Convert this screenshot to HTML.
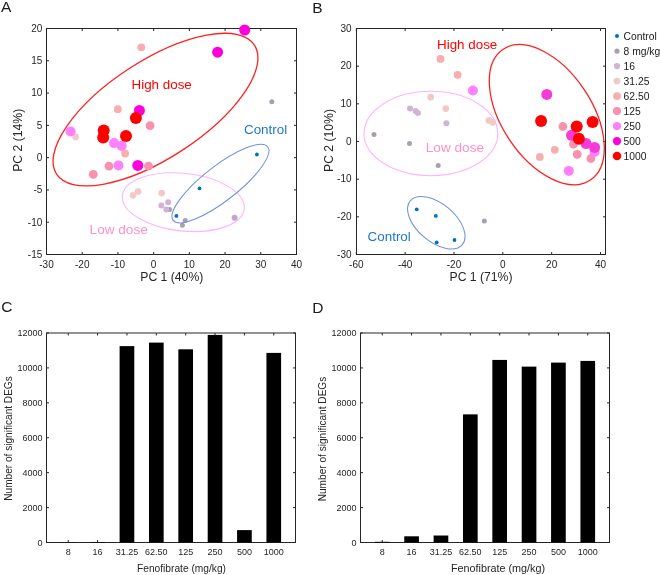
<!DOCTYPE html>
<html><head><meta charset="utf-8"><style>
html,body{margin:0;padding:0;background:#fff;}
svg{display:block;font-family:"Liberation Sans",sans-serif;will-change:transform;}
</style></head><body>
<svg width="661" height="575" viewBox="0 0 661 575">
<rect width="661" height="575" fill="#fff"/>
<rect x="46.5" y="28.5" width="250.0" height="226.0" fill="none" stroke="#262626" stroke-width="1"/>
<line x1="46.5" y1="254.5" x2="46.5" y2="252.0" stroke="#262626" stroke-width="1"/>
<line x1="46.5" y1="28.5" x2="46.5" y2="31.0" stroke="#262626" stroke-width="1"/>
<line x1="82.21428571428572" y1="254.5" x2="82.21428571428572" y2="252.0" stroke="#262626" stroke-width="1"/>
<line x1="82.21428571428572" y1="28.5" x2="82.21428571428572" y2="31.0" stroke="#262626" stroke-width="1"/>
<line x1="117.92857142857143" y1="254.5" x2="117.92857142857143" y2="252.0" stroke="#262626" stroke-width="1"/>
<line x1="117.92857142857143" y1="28.5" x2="117.92857142857143" y2="31.0" stroke="#262626" stroke-width="1"/>
<line x1="153.64285714285714" y1="254.5" x2="153.64285714285714" y2="252.0" stroke="#262626" stroke-width="1"/>
<line x1="153.64285714285714" y1="28.5" x2="153.64285714285714" y2="31.0" stroke="#262626" stroke-width="1"/>
<line x1="189.35714285714286" y1="254.5" x2="189.35714285714286" y2="252.0" stroke="#262626" stroke-width="1"/>
<line x1="189.35714285714286" y1="28.5" x2="189.35714285714286" y2="31.0" stroke="#262626" stroke-width="1"/>
<line x1="225.07142857142858" y1="254.5" x2="225.07142857142858" y2="252.0" stroke="#262626" stroke-width="1"/>
<line x1="225.07142857142858" y1="28.5" x2="225.07142857142858" y2="31.0" stroke="#262626" stroke-width="1"/>
<line x1="260.7857142857143" y1="254.5" x2="260.7857142857143" y2="252.0" stroke="#262626" stroke-width="1"/>
<line x1="260.7857142857143" y1="28.5" x2="260.7857142857143" y2="31.0" stroke="#262626" stroke-width="1"/>
<line x1="296.5" y1="254.5" x2="296.5" y2="252.0" stroke="#262626" stroke-width="1"/>
<line x1="296.5" y1="28.5" x2="296.5" y2="31.0" stroke="#262626" stroke-width="1"/>
<line x1="46.5" y1="254.5" x2="49.0" y2="254.5" stroke="#262626" stroke-width="1"/>
<line x1="296.5" y1="254.5" x2="294.0" y2="254.5" stroke="#262626" stroke-width="1"/>
<line x1="46.5" y1="222.21428571428572" x2="49.0" y2="222.21428571428572" stroke="#262626" stroke-width="1"/>
<line x1="296.5" y1="222.21428571428572" x2="294.0" y2="222.21428571428572" stroke="#262626" stroke-width="1"/>
<line x1="46.5" y1="189.92857142857144" x2="49.0" y2="189.92857142857144" stroke="#262626" stroke-width="1"/>
<line x1="296.5" y1="189.92857142857144" x2="294.0" y2="189.92857142857144" stroke="#262626" stroke-width="1"/>
<line x1="46.5" y1="157.64285714285714" x2="49.0" y2="157.64285714285714" stroke="#262626" stroke-width="1"/>
<line x1="296.5" y1="157.64285714285714" x2="294.0" y2="157.64285714285714" stroke="#262626" stroke-width="1"/>
<line x1="46.5" y1="125.35714285714286" x2="49.0" y2="125.35714285714286" stroke="#262626" stroke-width="1"/>
<line x1="296.5" y1="125.35714285714286" x2="294.0" y2="125.35714285714286" stroke="#262626" stroke-width="1"/>
<line x1="46.5" y1="93.07142857142858" x2="49.0" y2="93.07142857142858" stroke="#262626" stroke-width="1"/>
<line x1="296.5" y1="93.07142857142858" x2="294.0" y2="93.07142857142858" stroke="#262626" stroke-width="1"/>
<line x1="46.5" y1="60.78571428571428" x2="49.0" y2="60.78571428571428" stroke="#262626" stroke-width="1"/>
<line x1="296.5" y1="60.78571428571428" x2="294.0" y2="60.78571428571428" stroke="#262626" stroke-width="1"/>
<line x1="46.5" y1="28.5" x2="49.0" y2="28.5" stroke="#262626" stroke-width="1"/>
<line x1="296.5" y1="28.5" x2="294.0" y2="28.5" stroke="#262626" stroke-width="1"/>
<text x="46.5" y="267.8" font-size="10" text-anchor="middle" fill="#262626" >-30</text>
<text x="82.21428571428572" y="267.8" font-size="10" text-anchor="middle" fill="#262626" >-20</text>
<text x="117.92857142857143" y="267.8" font-size="10" text-anchor="middle" fill="#262626" >-10</text>
<text x="153.64285714285714" y="267.8" font-size="10" text-anchor="middle" fill="#262626" >0</text>
<text x="189.35714285714286" y="267.8" font-size="10" text-anchor="middle" fill="#262626" >10</text>
<text x="225.07142857142858" y="267.8" font-size="10" text-anchor="middle" fill="#262626" >20</text>
<text x="260.7857142857143" y="267.8" font-size="10" text-anchor="middle" fill="#262626" >30</text>
<text x="296.5" y="267.8" font-size="10" text-anchor="middle" fill="#262626" >40</text>
<text x="42.3" y="257.8" font-size="10" text-anchor="end" fill="#262626" >-15</text>
<text x="42.3" y="225.51428571428573" font-size="10" text-anchor="end" fill="#262626" >-10</text>
<text x="42.3" y="193.22857142857146" font-size="10" text-anchor="end" fill="#262626" >-5</text>
<text x="42.3" y="160.94285714285715" font-size="10" text-anchor="end" fill="#262626" >0</text>
<text x="42.3" y="128.65714285714287" font-size="10" text-anchor="end" fill="#262626" >5</text>
<text x="42.3" y="96.37142857142858" font-size="10" text-anchor="end" fill="#262626" >10</text>
<text x="42.3" y="64.08571428571427" font-size="10" text-anchor="end" fill="#262626" >15</text>
<text x="42.3" y="31.8" font-size="10" text-anchor="end" fill="#262626" >20</text>
<text x="171.8" y="281.3" font-size="12.2" text-anchor="middle" fill="#262626" >PC 1 (40%)</text>
<text x="22.5" y="140.3" font-size="12.2" text-anchor="middle" fill="#262626" transform="rotate(-90 22.5 140.3)">PC 2 (14%)</text>
<text x="1" y="11.8" font-size="15.5" text-anchor="start" fill="#1a1a1a" >A</text>
<ellipse cx="155.5" cy="109.6" rx="118.1" ry="48.7" transform="rotate(-33.1 155.5 109.6)" fill="none" stroke="#ff2020" stroke-width="1.3"/>
<ellipse cx="183.3" cy="202.2" rx="61.3" ry="28.8" transform="rotate(6.2 183.3 202.2)" fill="none" stroke="#ffb4ff" stroke-width="1.1"/>
<circle cx="199.5" cy="188.4" r="1.90" fill="#0072bd"/>
<circle cx="176.4" cy="215.9" r="1.90" fill="#0072bd"/>
<circle cx="256.9" cy="154.5" r="1.90" fill="#0072bd"/>
<circle cx="271.8" cy="101.8" r="2.50" fill="#ab9eb0"/>
<circle cx="169.6" cy="209.6" r="2.50" fill="#ab9eb0"/>
<circle cx="185.2" cy="220.4" r="2.50" fill="#ab9eb0"/>
<circle cx="182.4" cy="225.2" r="2.50" fill="#ab9eb0"/>
<circle cx="234.6" cy="217.7" r="3.00" fill="#c2a8c6"/>
<circle cx="168.2" cy="202.2" r="3.00" fill="#d2b2d6"/>
<circle cx="161.3" cy="205.6" r="3.00" fill="#d2b2d6"/>
<circle cx="166.3" cy="209.6" r="3.00" fill="#d2b2d6"/>
<circle cx="75.6" cy="136.9" r="3.35" fill="#f3c8c8"/>
<circle cx="133" cy="195.3" r="3.35" fill="#f3c8c8"/>
<circle cx="138.1" cy="191.5" r="3.35" fill="#f3c8c8"/>
<circle cx="161.7" cy="193.1" r="3.35" fill="#f3c8c8"/>
<circle cx="141.3" cy="47.3" r="3.90" fill="#f8aeae"/>
<circle cx="117.8" cy="109.2" r="3.90" fill="#f8aeae"/>
<circle cx="125.1" cy="153.5" r="3.90" fill="#f8aeae"/>
<circle cx="150.1" cy="125.7" r="4.40" fill="#f890ae"/>
<circle cx="109" cy="166.2" r="4.40" fill="#f890ae"/>
<circle cx="148.5" cy="166.2" r="4.40" fill="#f890ae"/>
<circle cx="93.3" cy="174.3" r="4.40" fill="#f890ae"/>
<circle cx="70.6" cy="131.5" r="5.00" fill="#ff80ff"/>
<circle cx="114.1" cy="143.1" r="5.00" fill="#ff80ff"/>
<circle cx="121.7" cy="145.9" r="5.00" fill="#ff80ff"/>
<circle cx="118.5" cy="165.4" r="5.00" fill="#ff80ff"/>
<circle cx="139.4" cy="110.5" r="5.50" fill="#ff00dc"/>
<circle cx="137.8" cy="165.4" r="5.50" fill="#ff00dc"/>
<circle cx="217.6" cy="52.2" r="5.50" fill="#ff00dc"/>
<circle cx="244.7" cy="30" r="5.50" fill="#ff00dc"/>
<circle cx="135.9" cy="118.1" r="6.00" fill="#ff0000"/>
<circle cx="103.7" cy="130.4" r="6.00" fill="#ff0000"/>
<circle cx="103.2" cy="137.4" r="6.00" fill="#ff0000"/>
<circle cx="126" cy="135.9" r="6.00" fill="#ff0000"/>
<ellipse cx="220.45" cy="183.55" rx="59.9" ry="17.4" transform="rotate(-37.9 220.45 183.55)" fill="none" stroke="#6f93dc" stroke-width="1.05"/>
<text x="131.5" y="88.7" font-size="13.4" text-anchor="start" fill="#ff0000" >High dose</text>
<text x="244" y="134.2" font-size="13.4" text-anchor="start" fill="#1f78c8" >Control</text>
<text x="89.6" y="234.2" font-size="13.6" text-anchor="start" fill="#ff90cc" >Low dose</text>
<rect x="356.5" y="28.5" width="249.0" height="226.0" fill="none" stroke="#262626" stroke-width="1"/>
<line x1="356.3" y1="254.5" x2="356.3" y2="252.0" stroke="#262626" stroke-width="1"/>
<line x1="356.3" y1="28.5" x2="356.3" y2="31.0" stroke="#262626" stroke-width="1"/>
<line x1="405.14" y1="254.5" x2="405.14" y2="252.0" stroke="#262626" stroke-width="1"/>
<line x1="405.14" y1="28.5" x2="405.14" y2="31.0" stroke="#262626" stroke-width="1"/>
<line x1="453.98" y1="254.5" x2="453.98" y2="252.0" stroke="#262626" stroke-width="1"/>
<line x1="453.98" y1="28.5" x2="453.98" y2="31.0" stroke="#262626" stroke-width="1"/>
<line x1="502.82000000000005" y1="254.5" x2="502.82000000000005" y2="252.0" stroke="#262626" stroke-width="1"/>
<line x1="502.82000000000005" y1="28.5" x2="502.82000000000005" y2="31.0" stroke="#262626" stroke-width="1"/>
<line x1="551.6600000000001" y1="254.5" x2="551.6600000000001" y2="252.0" stroke="#262626" stroke-width="1"/>
<line x1="551.6600000000001" y1="28.5" x2="551.6600000000001" y2="31.0" stroke="#262626" stroke-width="1"/>
<line x1="600.5" y1="254.5" x2="600.5" y2="252.0" stroke="#262626" stroke-width="1"/>
<line x1="600.5" y1="28.5" x2="600.5" y2="31.0" stroke="#262626" stroke-width="1"/>
<line x1="356.5" y1="254.5" x2="359.0" y2="254.5" stroke="#262626" stroke-width="1"/>
<line x1="605.5" y1="254.5" x2="603.0" y2="254.5" stroke="#262626" stroke-width="1"/>
<line x1="356.5" y1="216.83333333333334" x2="359.0" y2="216.83333333333334" stroke="#262626" stroke-width="1"/>
<line x1="605.5" y1="216.83333333333334" x2="603.0" y2="216.83333333333334" stroke="#262626" stroke-width="1"/>
<line x1="356.5" y1="179.16666666666666" x2="359.0" y2="179.16666666666666" stroke="#262626" stroke-width="1"/>
<line x1="605.5" y1="179.16666666666666" x2="603.0" y2="179.16666666666666" stroke="#262626" stroke-width="1"/>
<line x1="356.5" y1="141.5" x2="359.0" y2="141.5" stroke="#262626" stroke-width="1"/>
<line x1="605.5" y1="141.5" x2="603.0" y2="141.5" stroke="#262626" stroke-width="1"/>
<line x1="356.5" y1="103.83333333333333" x2="359.0" y2="103.83333333333333" stroke="#262626" stroke-width="1"/>
<line x1="605.5" y1="103.83333333333333" x2="603.0" y2="103.83333333333333" stroke="#262626" stroke-width="1"/>
<line x1="356.5" y1="66.16666666666666" x2="359.0" y2="66.16666666666666" stroke="#262626" stroke-width="1"/>
<line x1="605.5" y1="66.16666666666666" x2="603.0" y2="66.16666666666666" stroke="#262626" stroke-width="1"/>
<line x1="356.5" y1="28.5" x2="359.0" y2="28.5" stroke="#262626" stroke-width="1"/>
<line x1="605.5" y1="28.5" x2="603.0" y2="28.5" stroke="#262626" stroke-width="1"/>
<text x="356.3" y="267.8" font-size="10" text-anchor="middle" fill="#262626" >-60</text>
<text x="405.14" y="267.8" font-size="10" text-anchor="middle" fill="#262626" >-40</text>
<text x="453.98" y="267.8" font-size="10" text-anchor="middle" fill="#262626" >-20</text>
<text x="502.82000000000005" y="267.8" font-size="10" text-anchor="middle" fill="#262626" >0</text>
<text x="551.6600000000001" y="267.8" font-size="10" text-anchor="middle" fill="#262626" >20</text>
<text x="600.5" y="267.8" font-size="10" text-anchor="middle" fill="#262626" >40</text>
<text x="351.5" y="257.8" font-size="10" text-anchor="end" fill="#262626" >-30</text>
<text x="351.5" y="220.13333333333335" font-size="10" text-anchor="end" fill="#262626" >-20</text>
<text x="351.5" y="182.46666666666667" font-size="10" text-anchor="end" fill="#262626" >-10</text>
<text x="351.5" y="144.8" font-size="10" text-anchor="end" fill="#262626" >0</text>
<text x="351.5" y="107.13333333333333" font-size="10" text-anchor="end" fill="#262626" >10</text>
<text x="351.5" y="69.46666666666665" font-size="10" text-anchor="end" fill="#262626" >20</text>
<text x="351.5" y="31.8" font-size="10" text-anchor="end" fill="#262626" >30</text>
<text x="481" y="281.3" font-size="12.2" text-anchor="middle" fill="#262626" >PC 1 (71%)</text>
<text x="332.5" y="140.5" font-size="12.2" text-anchor="middle" fill="#262626" transform="rotate(-90 332.5 140.5)">PC 2 (10%)</text>
<text x="312.3" y="12.8" font-size="15.5" text-anchor="start" fill="#1a1a1a" >B</text>
<ellipse cx="430.9" cy="133.5" rx="66.9" ry="42.2" fill="none" stroke="#ffb4ff" stroke-width="1.1"/>
<ellipse cx="546.8" cy="114.65" rx="78.6" ry="45" transform="rotate(56.3 546.8 114.65)" fill="none" stroke="#ff2020" stroke-width="1.3"/>
<ellipse cx="436.3" cy="222.7" rx="34" ry="18.9" transform="rotate(40 436.3 222.7)" fill="none" stroke="#6f93dc" stroke-width="1.05"/>
<circle cx="416.7" cy="209.3" r="1.90" fill="#0072bd"/>
<circle cx="435.8" cy="215.9" r="1.90" fill="#0072bd"/>
<circle cx="436.7" cy="242.4" r="1.90" fill="#0072bd"/>
<circle cx="454.5" cy="240" r="1.90" fill="#0072bd"/>
<circle cx="374" cy="134.4" r="2.50" fill="#ab9eb0"/>
<circle cx="409.5" cy="143.5" r="2.50" fill="#ab9eb0"/>
<circle cx="438.2" cy="165.4" r="2.50" fill="#ab9eb0"/>
<circle cx="484.3" cy="220.9" r="2.50" fill="#ab9eb0"/>
<circle cx="410" cy="108.6" r="3.00" fill="#d2b2d6"/>
<circle cx="415.6" cy="111.1" r="3.00" fill="#d2b2d6"/>
<circle cx="417.9" cy="113.1" r="3.00" fill="#d2b2d6"/>
<circle cx="446.4" cy="123.3" r="3.00" fill="#d2b2d6"/>
<circle cx="430.7" cy="97.2" r="3.35" fill="#f3c8c8"/>
<circle cx="445.8" cy="108.6" r="3.35" fill="#f3c8c8"/>
<circle cx="488.9" cy="120.4" r="3.35" fill="#f3c8c8"/>
<circle cx="492.8" cy="122.3" r="3.35" fill="#f3c8c8"/>
<circle cx="440.5" cy="58.9" r="3.90" fill="#f8aeae"/>
<circle cx="457.6" cy="74.8" r="3.90" fill="#f8aeae"/>
<circle cx="554.8" cy="149.8" r="3.90" fill="#f8aeae"/>
<circle cx="539.8" cy="156.9" r="3.90" fill="#f8aeae"/>
<circle cx="562.9" cy="126.5" r="4.40" fill="#f890ae"/>
<circle cx="573.5" cy="144.2" r="4.40" fill="#f890ae"/>
<circle cx="577.2" cy="154.3" r="4.40" fill="#f890ae"/>
<circle cx="590.9" cy="158.5" r="4.40" fill="#f890ae"/>
<circle cx="472.9" cy="90.5" r="5.00" fill="#ff80ff"/>
<circle cx="568.8" cy="170.9" r="5.00" fill="#ff80ff"/>
<circle cx="594.6" cy="152" r="5.00" fill="#ff80ff"/>
<circle cx="546.8" cy="94.4" r="5.50" fill="#f53cd8"/>
<circle cx="571.5" cy="135.3" r="5.50" fill="#f53cd8"/>
<circle cx="586.1" cy="143.5" r="5.50" fill="#f53cd8"/>
<circle cx="594.6" cy="147.4" r="5.50" fill="#f53cd8"/>
<circle cx="541.1" cy="120.9" r="6.00" fill="#ff0000"/>
<circle cx="576.7" cy="126.5" r="6.00" fill="#ff0000"/>
<circle cx="592.6" cy="122" r="6.00" fill="#ff0000"/>
<circle cx="578.9" cy="138.7" r="6.00" fill="#ff0000"/>
<text x="437" y="49" font-size="13.4" text-anchor="start" fill="#ff0000" >High dose</text>
<text x="367.6" y="241.4" font-size="13.4" text-anchor="start" fill="#1f78c8" >Control</text>
<text x="425.8" y="151.8" font-size="13.6" text-anchor="start" fill="#ff90cc" >Low dose</text>
<circle cx="617" cy="36.1" r="2.0" fill="#0072bd"/>
<text x="623.6" y="39.6" font-size="10.3" text-anchor="start" fill="#1a1a1a" >Control</text>
<circle cx="617" cy="51.1" r="2.6" fill="#ab9eb0"/>
<text x="623.6" y="54.6" font-size="10.3" text-anchor="start" fill="#1a1a1a" >8 mg/kg</text>
<circle cx="617" cy="66.1" r="3.1" fill="#d2b2d6"/>
<text x="623.6" y="69.6" font-size="10.3" text-anchor="start" fill="#1a1a1a" >16</text>
<circle cx="617" cy="81.1" r="3.4" fill="#f3c8c8"/>
<text x="623.6" y="84.6" font-size="10.3" text-anchor="start" fill="#1a1a1a" >31.25</text>
<circle cx="617" cy="96.1" r="3.9" fill="#f8aeae"/>
<text x="623.6" y="99.6" font-size="10.3" text-anchor="start" fill="#1a1a1a" >62.50</text>
<circle cx="617" cy="111.1" r="4.05" fill="#f890ae"/>
<text x="623.6" y="114.6" font-size="10.3" text-anchor="start" fill="#1a1a1a" >125</text>
<circle cx="617" cy="126.1" r="4.15" fill="#ff80ff"/>
<text x="623.6" y="129.6" font-size="10.3" text-anchor="start" fill="#1a1a1a" >250</text>
<circle cx="617" cy="141.1" r="4.15" fill="#ff00dc"/>
<text x="623.6" y="144.6" font-size="10.3" text-anchor="start" fill="#1a1a1a" >500</text>
<circle cx="617" cy="156.1" r="4.25" fill="#ff0000"/>
<text x="623.6" y="159.6" font-size="10.3" text-anchor="start" fill="#1a1a1a" >1000</text>
<rect x="46.5" y="333" width="249.0" height="209.5" fill="none" stroke="#262626" stroke-width="1"/>
<line x1="68.22877358490567" y1="542.5" x2="68.22877358490567" y2="540.0" stroke="#262626" stroke-width="1"/>
<line x1="68.22877358490567" y1="333" x2="68.22877358490567" y2="335.5" stroke="#262626" stroke-width="1"/>
<line x1="97.59198113207546" y1="542.5" x2="97.59198113207546" y2="540.0" stroke="#262626" stroke-width="1"/>
<line x1="97.59198113207546" y1="333" x2="97.59198113207546" y2="335.5" stroke="#262626" stroke-width="1"/>
<line x1="126.95518867924528" y1="542.5" x2="126.95518867924528" y2="540.0" stroke="#262626" stroke-width="1"/>
<line x1="126.95518867924528" y1="333" x2="126.95518867924528" y2="335.5" stroke="#262626" stroke-width="1"/>
<line x1="156.3183962264151" y1="542.5" x2="156.3183962264151" y2="540.0" stroke="#262626" stroke-width="1"/>
<line x1="156.3183962264151" y1="333" x2="156.3183962264151" y2="335.5" stroke="#262626" stroke-width="1"/>
<line x1="185.6816037735849" y1="542.5" x2="185.6816037735849" y2="540.0" stroke="#262626" stroke-width="1"/>
<line x1="185.6816037735849" y1="333" x2="185.6816037735849" y2="335.5" stroke="#262626" stroke-width="1"/>
<line x1="215.04481132075472" y1="542.5" x2="215.04481132075472" y2="540.0" stroke="#262626" stroke-width="1"/>
<line x1="215.04481132075472" y1="333" x2="215.04481132075472" y2="335.5" stroke="#262626" stroke-width="1"/>
<line x1="244.40801886792454" y1="542.5" x2="244.40801886792454" y2="540.0" stroke="#262626" stroke-width="1"/>
<line x1="244.40801886792454" y1="333" x2="244.40801886792454" y2="335.5" stroke="#262626" stroke-width="1"/>
<line x1="273.77122641509436" y1="542.5" x2="273.77122641509436" y2="540.0" stroke="#262626" stroke-width="1"/>
<line x1="273.77122641509436" y1="333" x2="273.77122641509436" y2="335.5" stroke="#262626" stroke-width="1"/>
<line x1="46.5" y1="542.5" x2="49.0" y2="542.5" stroke="#262626" stroke-width="1"/>
<line x1="295.5" y1="542.5" x2="293.0" y2="542.5" stroke="#262626" stroke-width="1"/>
<line x1="46.5" y1="507.5833333333333" x2="49.0" y2="507.5833333333333" stroke="#262626" stroke-width="1"/>
<line x1="295.5" y1="507.5833333333333" x2="293.0" y2="507.5833333333333" stroke="#262626" stroke-width="1"/>
<line x1="46.5" y1="472.6666666666667" x2="49.0" y2="472.6666666666667" stroke="#262626" stroke-width="1"/>
<line x1="295.5" y1="472.6666666666667" x2="293.0" y2="472.6666666666667" stroke="#262626" stroke-width="1"/>
<line x1="46.5" y1="437.75" x2="49.0" y2="437.75" stroke="#262626" stroke-width="1"/>
<line x1="295.5" y1="437.75" x2="293.0" y2="437.75" stroke="#262626" stroke-width="1"/>
<line x1="46.5" y1="402.83333333333337" x2="49.0" y2="402.83333333333337" stroke="#262626" stroke-width="1"/>
<line x1="295.5" y1="402.83333333333337" x2="293.0" y2="402.83333333333337" stroke="#262626" stroke-width="1"/>
<line x1="46.5" y1="367.91666666666663" x2="49.0" y2="367.91666666666663" stroke="#262626" stroke-width="1"/>
<line x1="295.5" y1="367.91666666666663" x2="293.0" y2="367.91666666666663" stroke="#262626" stroke-width="1"/>
<line x1="46.5" y1="333.0" x2="49.0" y2="333.0" stroke="#262626" stroke-width="1"/>
<line x1="295.5" y1="333.0" x2="293.0" y2="333.0" stroke="#262626" stroke-width="1"/>
<rect x="60.89" y="542.24" width="14.68" height="0.26" fill="#000"/>
<rect x="90.25" y="541.98" width="14.68" height="0.52" fill="#000"/>
<rect x="119.61" y="346.11" width="14.68" height="196.39" fill="#000"/>
<rect x="148.98" y="342.60" width="14.68" height="199.90" fill="#000"/>
<rect x="178.34" y="349.31" width="14.68" height="193.19" fill="#000"/>
<rect x="207.70" y="334.92" width="14.68" height="207.58" fill="#000"/>
<rect x="237.07" y="530.10" width="14.68" height="12.40" fill="#000"/>
<rect x="266.43" y="352.90" width="14.68" height="189.60" fill="#000"/>
<text x="68.23" y="555" font-size="9" text-anchor="middle" fill="#262626" >8</text>
<text x="97.59" y="555" font-size="9" text-anchor="middle" fill="#262626" >16</text>
<text x="126.96" y="555" font-size="9" text-anchor="middle" fill="#262626" >31.25</text>
<text x="156.32" y="555" font-size="9" text-anchor="middle" fill="#262626" >62.50</text>
<text x="185.68" y="555" font-size="9" text-anchor="middle" fill="#262626" >125</text>
<text x="215.04" y="555" font-size="9" text-anchor="middle" fill="#262626" >250</text>
<text x="244.41" y="555" font-size="9" text-anchor="middle" fill="#262626" >500</text>
<text x="273.77" y="555" font-size="9" text-anchor="middle" fill="#262626" >1000</text>
<text x="42.6" y="545.70" font-size="9" text-anchor="end" fill="#262626" >0</text>
<text x="42.6" y="510.78" font-size="9" text-anchor="end" fill="#262626" >2000</text>
<text x="42.6" y="475.87" font-size="9" text-anchor="end" fill="#262626" >4000</text>
<text x="42.6" y="440.95" font-size="9" text-anchor="end" fill="#262626" >6000</text>
<text x="42.6" y="406.03" font-size="9" text-anchor="end" fill="#262626" >8000</text>
<text x="42.6" y="371.12" font-size="9" text-anchor="end" fill="#262626" >10000</text>
<text x="42.6" y="336.20" font-size="9" text-anchor="end" fill="#262626" >12000</text>
<text x="181.5" y="571.6" font-size="10.2" text-anchor="middle" fill="#262626" >Fenofibrate (mg/kg)</text>
<text x="11.5" y="438.5" font-size="10.1" text-anchor="middle" fill="#262626" transform="rotate(-90 11.5 438.5)">Number of significant DEGs</text>
<text x="1.2" y="312.2" font-size="15.5" text-anchor="start" fill="#1a1a1a" >C</text>
<rect x="360.5" y="333" width="249.0" height="209.5" fill="none" stroke="#262626" stroke-width="1"/>
<line x1="382.22877358490564" y1="542.5" x2="382.22877358490564" y2="540.0" stroke="#262626" stroke-width="1"/>
<line x1="382.22877358490564" y1="333" x2="382.22877358490564" y2="335.5" stroke="#262626" stroke-width="1"/>
<line x1="411.5919811320755" y1="542.5" x2="411.5919811320755" y2="540.0" stroke="#262626" stroke-width="1"/>
<line x1="411.5919811320755" y1="333" x2="411.5919811320755" y2="335.5" stroke="#262626" stroke-width="1"/>
<line x1="440.9551886792453" y1="542.5" x2="440.9551886792453" y2="540.0" stroke="#262626" stroke-width="1"/>
<line x1="440.9551886792453" y1="333" x2="440.9551886792453" y2="335.5" stroke="#262626" stroke-width="1"/>
<line x1="470.3183962264151" y1="542.5" x2="470.3183962264151" y2="540.0" stroke="#262626" stroke-width="1"/>
<line x1="470.3183962264151" y1="333" x2="470.3183962264151" y2="335.5" stroke="#262626" stroke-width="1"/>
<line x1="499.6816037735849" y1="542.5" x2="499.6816037735849" y2="540.0" stroke="#262626" stroke-width="1"/>
<line x1="499.6816037735849" y1="333" x2="499.6816037735849" y2="335.5" stroke="#262626" stroke-width="1"/>
<line x1="529.0448113207547" y1="542.5" x2="529.0448113207547" y2="540.0" stroke="#262626" stroke-width="1"/>
<line x1="529.0448113207547" y1="333" x2="529.0448113207547" y2="335.5" stroke="#262626" stroke-width="1"/>
<line x1="558.4080188679245" y1="542.5" x2="558.4080188679245" y2="540.0" stroke="#262626" stroke-width="1"/>
<line x1="558.4080188679245" y1="333" x2="558.4080188679245" y2="335.5" stroke="#262626" stroke-width="1"/>
<line x1="587.7712264150944" y1="542.5" x2="587.7712264150944" y2="540.0" stroke="#262626" stroke-width="1"/>
<line x1="587.7712264150944" y1="333" x2="587.7712264150944" y2="335.5" stroke="#262626" stroke-width="1"/>
<line x1="360.5" y1="542.5" x2="363.0" y2="542.5" stroke="#262626" stroke-width="1"/>
<line x1="609.5" y1="542.5" x2="607.0" y2="542.5" stroke="#262626" stroke-width="1"/>
<line x1="360.5" y1="507.5833333333333" x2="363.0" y2="507.5833333333333" stroke="#262626" stroke-width="1"/>
<line x1="609.5" y1="507.5833333333333" x2="607.0" y2="507.5833333333333" stroke="#262626" stroke-width="1"/>
<line x1="360.5" y1="472.6666666666667" x2="363.0" y2="472.6666666666667" stroke="#262626" stroke-width="1"/>
<line x1="609.5" y1="472.6666666666667" x2="607.0" y2="472.6666666666667" stroke="#262626" stroke-width="1"/>
<line x1="360.5" y1="437.75" x2="363.0" y2="437.75" stroke="#262626" stroke-width="1"/>
<line x1="609.5" y1="437.75" x2="607.0" y2="437.75" stroke="#262626" stroke-width="1"/>
<line x1="360.5" y1="402.83333333333337" x2="363.0" y2="402.83333333333337" stroke="#262626" stroke-width="1"/>
<line x1="609.5" y1="402.83333333333337" x2="607.0" y2="402.83333333333337" stroke="#262626" stroke-width="1"/>
<line x1="360.5" y1="367.91666666666663" x2="363.0" y2="367.91666666666663" stroke="#262626" stroke-width="1"/>
<line x1="609.5" y1="367.91666666666663" x2="607.0" y2="367.91666666666663" stroke="#262626" stroke-width="1"/>
<line x1="360.5" y1="333.0" x2="363.0" y2="333.0" stroke="#262626" stroke-width="1"/>
<line x1="609.5" y1="333.0" x2="607.0" y2="333.0" stroke="#262626" stroke-width="1"/>
<rect x="374.89" y="541.80" width="14.68" height="0.70" fill="#000"/>
<rect x="404.25" y="536.30" width="14.68" height="6.20" fill="#000"/>
<rect x="433.61" y="535.52" width="14.68" height="6.98" fill="#000"/>
<rect x="462.98" y="414.36" width="14.68" height="128.14" fill="#000"/>
<rect x="492.34" y="359.92" width="14.68" height="182.58" fill="#000"/>
<rect x="521.70" y="366.62" width="14.68" height="175.88" fill="#000"/>
<rect x="551.07" y="362.61" width="14.68" height="179.89" fill="#000"/>
<rect x="580.43" y="360.92" width="14.68" height="181.58" fill="#000"/>
<text x="382.23" y="555" font-size="9" text-anchor="middle" fill="#262626" >8</text>
<text x="411.59" y="555" font-size="9" text-anchor="middle" fill="#262626" >16</text>
<text x="440.96" y="555" font-size="9" text-anchor="middle" fill="#262626" >31.25</text>
<text x="470.32" y="555" font-size="9" text-anchor="middle" fill="#262626" >62.50</text>
<text x="499.68" y="555" font-size="9" text-anchor="middle" fill="#262626" >125</text>
<text x="529.04" y="555" font-size="9" text-anchor="middle" fill="#262626" >250</text>
<text x="558.41" y="555" font-size="9" text-anchor="middle" fill="#262626" >500</text>
<text x="587.77" y="555" font-size="9" text-anchor="middle" fill="#262626" >1000</text>
<text x="356.6" y="545.70" font-size="9" text-anchor="end" fill="#262626" >0</text>
<text x="356.6" y="510.78" font-size="9" text-anchor="end" fill="#262626" >2000</text>
<text x="356.6" y="475.87" font-size="9" text-anchor="end" fill="#262626" >4000</text>
<text x="356.6" y="440.95" font-size="9" text-anchor="end" fill="#262626" >6000</text>
<text x="356.6" y="406.03" font-size="9" text-anchor="end" fill="#262626" >8000</text>
<text x="356.6" y="371.12" font-size="9" text-anchor="end" fill="#262626" >10000</text>
<text x="356.6" y="336.20" font-size="9" text-anchor="end" fill="#262626" >12000</text>
<text x="498" y="572.3" font-size="10.8" text-anchor="middle" fill="#262626" >Fenofibrate (mg/kg)</text>
<text x="325.7" y="439" font-size="10.1" text-anchor="middle" fill="#262626" transform="rotate(-90 325.7 439)">Number of significant DEGs</text>
<text x="312.3" y="313.3" font-size="15.5" text-anchor="start" fill="#1a1a1a" >D</text>
</svg></body></html>
